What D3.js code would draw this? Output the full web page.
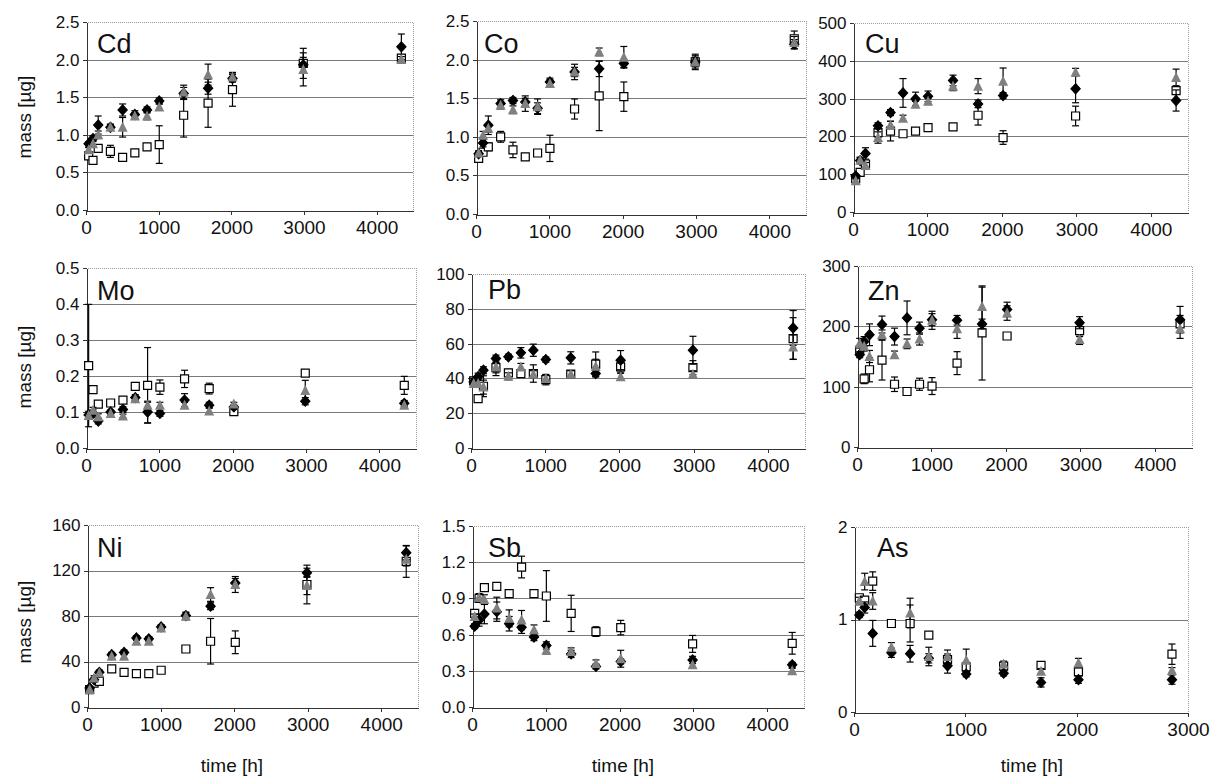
<!DOCTYPE html>
<html>
<head>
<meta charset="utf-8">
<script src="https://cdn.jsdelivr.net/npm/d3@7"></script>
<style>
  body { margin: 0; background: #fff; }
  text { font-family: "Liberation Sans", Arial, sans-serif; fill: #111; }
  .eje path, .eje line { stroke: #333; stroke-width: 1; shape-rendering: crispEdges; }
  .grid { stroke: #7a7a7a; stroke-width: 1; shape-rendering: crispEdges; }
  .borde { stroke: #9a9a9a; stroke-width: 1; stroke-dasharray: 1 1; fill: none; shape-rendering: crispEdges; }
  .barra { stroke: #000; stroke-width: 1.2; }
</style>
</head>
<body>
<div id="graf"></div>
<script>
// tiempos de muestreo (h)
const hours = [36, 96, 168, 336, 504, 672, 840, 1008, 1344, 1680, 2016, 2990, 4340];
const hoursAs = [48, 96, 168, 336, 504, 672, 840, 1008, 1344, 1680, 2016, 2856];

// Cd
const cdBlack = [0.88, 0.95, 1.13, 1.10, 1.33, 1.27, 1.33, 1.45, 1.55, 1.62, 1.75, 1.93, 2.17];
const cdBlackErr = [0.03, 0.04, 0.12, 0.04, 0.08, 0.05, 0.04, 0.04, 0.08, 0.08, 0.05, 0.10, 0.17];
const cdGray = [0.80, 0.88, 1.00, 1.10, 1.10, 1.25, 1.25, 1.37, 1.57, 1.80, 1.77, 1.87, 2.00];
const cdGrayErr = [0.03, 0.04, 0.05, 0.04, 0.13, 0.04, 0.05, 0.04, 0.09, 0.14, 0.06, 0.22, 0.04];
const cdOpen = [0.72, 0.66, 0.82, 0.78, 0.70, 0.76, 0.84, 0.87, 1.26, 1.42, 1.60, 1.95, 2.02];
const cdOpenErr = [0.03, 0.04, 0.05, 0.08, 0.04, 0.03, 0.04, 0.25, 0.29, 0.32, 0.22, 0.20, 0.04];

// Co
const coBlack = [0.78, 0.92, 1.15, 1.43, 1.47, 1.45, 1.37, 1.71, 1.84, 1.88, 1.95, 1.97, 2.20];
const coBlackErr = [0.03, 0.05, 0.12, 0.05, 0.04, 0.05, 0.07, 0.05, 0.06, 0.10, 0.05, 0.06, 0.06];
const coGray = [0.79, 1.02, 1.11, 1.41, 1.35, 1.43, 1.39, 1.69, 1.84, 2.10, 2.03, 1.97, 2.22];
const coGrayErr = [0.03, 0.05, 0.05, 0.05, 0.05, 0.10, 0.10, 0.05, 0.10, 0.05, 0.14, 0.08, 0.08];
const coOpen = [0.72, 0.80, 0.87, 1.00, 0.83, 0.74, 0.79, 0.85, 1.36, 1.53, 1.52, 1.97, 2.27];
const coOpenErr = [0.03, 0.03, 0.05, 0.07, 0.10, 0.03, 0.04, 0.17, 0.13, 0.45, 0.19, 0.10, 0.10];

// Cu
const cuBlack = [95, 136, 155, 228, 263, 315, 299, 306, 348, 286, 308, 326, 295];
const cuBlackErr = [5, 8, 15, 8, 8, 38, 18, 14, 14, 10, 8, 37, 28];
const cuGray = [83, 137, 123, 197, 230, 248, 285, 293, 333, 333, 346, 370, 356];
const cuGrayErr = [5, 8, 8, 15, 10, 8, 8, 8, 12, 20, 35, 10, 22];
const cuOpen = [88, 105, 127, 210, 214, 207, 214, 223, 225, 256, 197, 254, 321];
const cuOpenErr = [5, 6, 8, 12, 26, 6, 6, 6, 6, 26, 18, 26, 10];

// Mo
const moBlack = [0.092, 0.096, 0.075, 0.100, 0.107, 0.140, 0.100, 0.096, 0.133, 0.119, 0.114, 0.130, 0.124];
const moBlackErr = [0.010, 0.010, 0.008, 0.005, 0.008, 0.008, 0.030, 0.008, 0.018, 0.008, 0.005, 0.010, 0.008];
const moGray = [0.090, 0.105, 0.087, 0.096, 0.089, 0.137, 0.119, 0.119, 0.119, 0.103, 0.122, 0.160, 0.119];
const moGrayErr = [0.008, 0.008, 0.008, 0.005, 0.005, 0.005, 0.008, 0.008, 0.008, 0.008, 0.005, 0.028, 0.005];
const moOpen = [0.229, 0.162, 0.122, 0.125, 0.133, 0.171, 0.174, 0.169, 0.192, 0.165, 0.101, 0.208, 0.174];
const moOpenErr = [0.170, 0.008, 0.005, 0.005, 0.005, 0.008, 0.105, 0.020, 0.024, 0.015, 0.005, 0.008, 0.025];

// Pb
const pbBlack = [38, 41, 44.7, 51.4, 52.4, 54.7, 56.2, 50.8, 51.8, 42.8, 50.5, 56.2, 69];
const pbBlackErr = [2, 2, 2, 2, 1.5, 3, 3.5, 1.5, 3.5, 2, 5.5, 8, 10];
const pbGray = [37, 37, 35, 46.6, 41.2, 46.6, 42.4, 39.9, 42.4, 47, 40.9, 42.4, 58];
const pbGrayErr = [2, 2, 4, 5, 2, 2, 2, 2, 2, 4, 2, 2, 7];
const pbOpen = [38.6, 28.4, 35.5, 46.2, 43.2, 42.8, 42.8, 39.3, 42.4, 48.2, 46.6, 46.2, 62.9];
const pbOpenErr = [2, 2, 6, 3, 2, 2, 5, 3, 2, 7, 3, 4, 12];

// Zn
const znBlack = [153, 175, 186, 203, 183, 214, 197, 211, 210, 204, 228, 206, 211];
const znBlackErr = [5, 8, 18, 14, 14, 28, 10, 10, 8, 8, 12, 10, 22];
const znGray = [172, 167, 150, 186, 153, 171, 179, 210, 196, 233, 222, 178, 196];
const znGrayErr = [8, 8, 10, 8, 6, 8, 10, 15, 16, 32, 12, 8, 16];
const znOpen = [160, 113, 128, 144, 104, 92, 104, 101, 139, 189, 184, 193, 204];
const znOpenErr = [8, 8, 20, 33, 12, 6, 10, 14, 19, 78, 5, 10, 14];

// Ni
const niBlack = [16.7, 24, 30.5, 46, 48, 60.7, 59.9, 70.4, 80.4, 88.6, 109, 118, 135.6];
const niBlackErr = [1.5, 2, 2, 2, 2, 2, 2, 2, 3, 3, 4, 4, 6];
const niGray = [15.3, 25.5, 30, 44.6, 44.6, 57.8, 57.8, 69.5, 79.8, 98.9, 107.7, 106.8, 130];
const niGrayErr = [1.5, 2, 2, 2, 2, 2, 2, 2, 3, 6, 7, 8, 6];
const niOpen = [15.3, 21, 22.6, 33.5, 30.5, 29.3, 29.3, 32.3, 51, 57.8, 56.9, 107.7, 128];
const niOpenErr = [1.5, 1.5, 2, 2, 1.5, 1.5, 1.5, 1.5, 2, 20, 10, 17, 14];

// Sb
const sbBlack = [0.67, 0.72, 0.77, 0.79, 0.69, 0.66, 0.58, 0.51, 0.44, 0.336, 0.377, 0.39, 0.35];
const sbBlackErr = [0.02, 0.05, 0.08, 0.08, 0.06, 0.05, 0.03, 0.03, 0.03, 0.02, 0.02, 0.03, 0.02];
const sbGray = [0.75, 0.91, 0.89, 0.82, 0.735, 0.72, 0.64, 0.47, 0.46, 0.36, 0.40, 0.35, 0.30];
const sbGrayErr = [0.02, 0.03, 0.04, 0.09, 0.07, 0.08, 0.04, 0.03, 0.03, 0.03, 0.07, 0.03, 0.02];
const sbOpen = [0.776, 0.90, 0.99, 1.00, 0.94, 1.16, 0.94, 0.92, 0.776, 0.625, 0.658, 0.523, 0.528];
const sbOpenErr = [0.02, 0.03, 0.03, 0.03, 0.02, 0.09, 0.02, 0.21, 0.15, 0.04, 0.06, 0.07, 0.09];

// As
const asBlack = [1.05, 1.13, 0.85, 0.64, 0.63, 0.58, 0.50, 0.41, 0.42, 0.32, 0.35, 0.35];
const asBlackErr = [0.03, 0.06, 0.14, 0.05, 0.09, 0.05, 0.08, 0.03, 0.03, 0.05, 0.04, 0.05];
const asGray = [1.20, 1.41, 1.20, 0.70, 1.07, 0.60, 0.60, 0.56, 0.52, 0.44, 0.53, 0.45];
const asGrayErr = [0.04, 0.09, 0.09, 0.05, 0.16, 0.10, 0.07, 0.12, 0.03, 0.03, 0.05, 0.03];
const asOpen = [1.235, 1.21, 1.415, 0.957, 0.957, 0.83, 0.567, 0.487, 0.495, 0.505, 0.433, 0.625];
const asOpenErr = [0.03, 0.03, 0.10, 0.02, 0.20, 0.02, 0.06, 0.05, 0.03, 0.02, 0.03, 0.11];

// etiquetas de ejes
const xTicks = [0, 1000, 2000, 3000, 4000];
const xTicksAs = [0, 1000, 2000, 3000];
const yTitle = "mass [µg]";
const xTitle = "time [h]";

// tabla de paneles (datos + caja del área de trazado en px)
const panels = [
  { name: "Cd", t: hours, black: cdBlack, blackErr: cdBlackErr, gray: cdGray, grayErr: cdGrayErr, open: cdOpen, openErr: cdOpenErr,
    ymax: 2.5, ystep: 0.5, dec: true, xmax: 4500, xt: xTicks, box: [86, 413, 22, 210], lab: [11, 31] },
  { name: "Co", t: hours, black: coBlack, blackErr: coBlackErr, gray: coGray, grayErr: coGrayErr, open: coOpen, openErr: coOpenErr,
    ymax: 2.5, ystep: 0.5, dec: true, xmax: 4500, xt: xTicks, box: [476, 806, 21, 214], lab: [8, 32] },
  { name: "Cu", t: hours, black: cuBlack, blackErr: cuBlackErr, gray: cuGray, grayErr: cuGrayErr, open: cuOpen, openErr: cuOpenErr,
    ymax: 500, ystep: 100, dec: false, xmax: 4500, xt: xTicks, box: [853, 1188, 23, 212], lab: [12, 30] },
  { name: "Mo", t: hours, black: moBlack, blackErr: moBlackErr, gray: moGray, grayErr: moGrayErr, open: moOpen, openErr: moOpenErr,
    ymax: 0.5, ystep: 0.1, dec: true, xmax: 4500, xt: xTicks, box: [86, 416, 268, 448], lab: [11, 32] },
  { name: "Pb", t: hours, black: pbBlack, blackErr: pbBlackErr, gray: pbGray, grayErr: pbGrayErr, open: pbOpen, openErr: pbOpenErr,
    ymax: 100, ystep: 20, dec: false, xmax: 4500, xt: xTicks, box: [471, 805, 274, 448], lab: [17, 25] },
  { name: "Zn", t: hours, black: znBlack, blackErr: znBlackErr, gray: znGray, grayErr: znGrayErr, open: znOpen, openErr: znOpenErr,
    ymax: 300, ystep: 100, dec: false, xmax: 4500, xt: xTicks, box: [857, 1192, 266, 447], lab: [11, 34] },
  { name: "Ni", t: hours, black: niBlack, blackErr: niBlackErr, gray: niGray, grayErr: niGrayErr, open: niOpen, openErr: niOpenErr,
    ymax: 160, ystep: 40, dec: false, xmax: 4500, xt: xTicks, box: [87, 418, 525, 707], lab: [10, 32] },
  { name: "Sb", t: hours, black: sbBlack, blackErr: sbBlackErr, gray: sbGray, grayErr: sbGrayErr, open: sbOpen, openErr: sbOpenErr,
    ymax: 1.5, ystep: 0.3, dec: true, xmax: 4500, xt: xTicks, box: [472, 804, 526, 707], lab: [16, 31] },
  { name: "As", t: hoursAs, black: asBlack, blackErr: asBlackErr, gray: asGray, grayErr: asGrayErr, open: asOpen, openErr: asOpenErr,
    ymax: 2, ystep: 1, dec: false, xmax: 3000, xt: xTicksAs, box: [854, 1188, 527, 712], lab: [23, 30] }
];

// marcadores estilo Excel
const marcas = {
  open:  { path: "M-4,-4H4V4H-4Z", fill: "#fff", stroke: "#000" },
  black: { path: "M0,-5L4.6,0L0,5L-4.6,0Z", fill: "#000", stroke: "#000" },
  gray:  { path: "M0,-5.5L5,4.5L-5,4.5Z", fill: "#808080", stroke: "none" }
};
const orden = ["open", "black", "gray"]; // orden de dibujo

const svg = d3.select("#graf").append("svg").attr("width", 1213).attr("height", 778);
svg.append("rect").attr("width", 1213).attr("height", 778).attr("fill", "#fff");

const drawPanel = (p) => {
  const [x0, x1, y0, y1] = p.box;
  const x = d3.scaleLinear().domain([0, p.xmax]).range([x0, x1]);
  const y = d3.scaleLinear().domain([0, p.ymax]).range([y1, y0]);
  const yTicks = d3.range(0, p.ymax + p.ystep / 2, p.ystep);
  const fmt = p.dec ? d3.format(".1f") : d3.format("d");
  const g = svg.append("g");

  // líneas de cuadrícula
  g.selectAll(".grid").data(yTicks.slice(1, -1)).enter().append("line")
    .attr("class", "grid")
    .attr("x1", x0).attr("x2", x1)
    .attr("y1", d => Math.round(y(d)) + 0.5).attr("y2", d => Math.round(y(d)) + 0.5);

  // borde superior y derecho
  g.append("path").attr("class", "borde")
    .attr("d", `M${x0},${y0 + 0.5}H${x1 + 0.5}V${y1}`);

  // ejes
  g.append("g").attr("class", "eje")
    .attr("transform", `translate(${x0 + 0.5},0)`)
    .call(d3.axisLeft(y).tickValues(yTicks).tickFormat(fmt).tickSize(4).tickSizeOuter(0).tickPadding(3))
    .call(a => a.selectAll("text").attr("font-size", 17).attr("fill", "#111"));
  g.append("g").attr("class", "eje")
    .attr("transform", `translate(0,${y1 + 0.5})`)
    .call(d3.axisBottom(x).tickValues(p.xt).tickFormat(d3.format("d")).tickSize(4).tickSizeOuter(0).tickPadding(6))
    .call(a => a.selectAll("text").attr("font-size", 19).attr("fill", "#111"));

  // nombre del elemento
  g.append("text").attr("x", x0 + p.lab[0]).attr("y", y0 + p.lab[1])
    .attr("font-size", 27).text(p.name);

  // series con barras de error
  orden.forEach(k => {
    const pts = p.t.map((t, i) => ({ t: t, v: p[k][i], e: p[k + "Err"][i] }));
    const sg = g.append("g");
    const eb = sg.selectAll(".eb").data(pts).enter().append("g");
    eb.append("line").attr("class", "barra")
      .attr("x1", d => x(d.t)).attr("x2", d => x(d.t))
      .attr("y1", d => y(d.v - d.e)).attr("y2", d => y(d.v + d.e));
    eb.append("line").attr("class", "barra")
      .attr("x1", d => x(d.t) - 3.5).attr("x2", d => x(d.t) + 3.5)
      .attr("y1", d => y(d.v + d.e)).attr("y2", d => y(d.v + d.e));
    eb.append("line").attr("class", "barra")
      .attr("x1", d => x(d.t) - 3.5).attr("x2", d => x(d.t) + 3.5)
      .attr("y1", d => y(d.v - d.e)).attr("y2", d => y(d.v - d.e));
    sg.selectAll(".m").data(pts).enter().append("path")
      .attr("d", marcas[k].path)
      .attr("transform", d => `translate(${x(d.t)},${y(d.v)})`)
      .attr("fill", marcas[k].fill)
      .attr("stroke", marcas[k].stroke)
      .attr("stroke-width", 1.2);
  });
};

panels.forEach(drawPanel);

// títulos de los ejes
[117, 367, 622].forEach(cy => {
  svg.append("text").attr("transform", `translate(31,${cy}) rotate(-90)`)
    .attr("text-anchor", "middle").attr("font-size", 19).text(yTitle);
});
[232, 623, 1032].forEach(cx => {
  svg.append("text").attr("x", cx).attr("y", 772)
    .attr("text-anchor", "middle").attr("font-size", 19).text(xTitle);
});
</script>
</body>
</html>
